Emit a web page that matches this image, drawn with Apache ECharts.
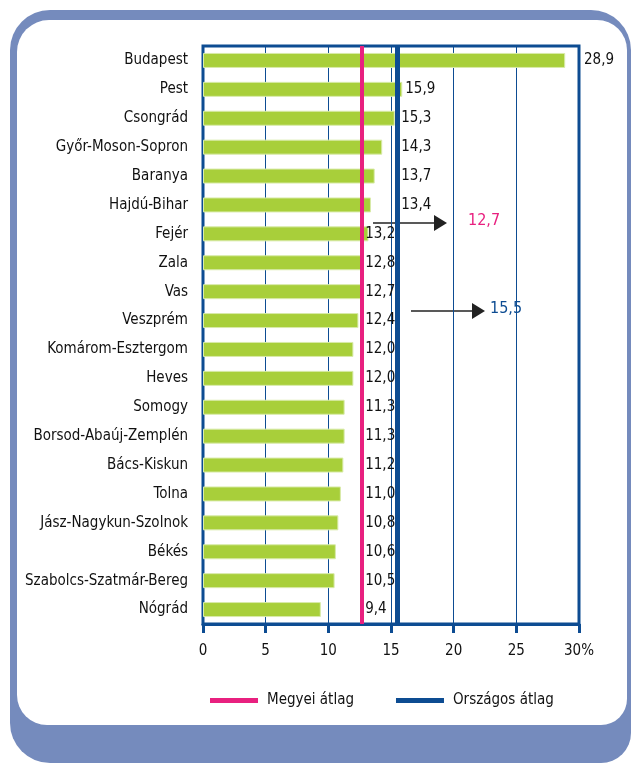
<!DOCTYPE html>
<html>
<head>
<meta charset="utf-8">
<script src="https://cdn.jsdelivr.net/npm/echarts@6/dist/echarts.min.js"></script>
<style>
  html, body { margin: 0; padding: 0; background: #fff; }
  #frame { position: absolute; left: 10px; top: 10px; width: 621px; height: 753px; background: #758bbd; border-radius: 40px 40px 30px 40px; }
  #panel { position: absolute; left: 17px; top: 20px; width: 610px; height: 705px; background: #fff; border-radius: 32px 30px 26px 30px; }
  #chart { position: absolute; left: 0; top: 0; width: 631px; height: 764px; }
</style>
</head>
<body>
<div id="frame"></div>
<div id="panel"></div>
<div id="chart"></div>
<script>
// megyék, felülről lefelé
const counties = [
  'Budapest', 'Pest', 'Csongrád', 'Győr-Moson-Sopron', 'Baranya', 'Hajdú-Bihar',
  'Fejér', 'Zala', 'Vas', 'Veszprém', 'Komárom-Esztergom', 'Heves', 'Somogy',
  'Borsod-Abaúj-Zemplén', 'Bács-Kiskun', 'Tolna', 'Jász-Nagykun-Szolnok',
  'Békés', 'Szabolcs-Szatmár-Bereg', 'Nógrád'
];
const values = [28.9, 15.9, 15.3, 14.3, 13.7, 13.4, 13.2, 12.8, 12.7, 12.4,
  12.0, 12.0, 11.3, 11.3, 11.2, 11.0, 10.8, 10.6, 10.5, 9.4];
const countyAvg = 12.7;   // Megyei átlag
const nationalAvg = 15.5; // Országos átlag
const xTicks = [0, 5, 10, 15, 20, 25, 30];

const font = "'DejaVu Sans Condensed', 'DejaVu Sans', sans-serif";
const navy = '#0d4c92';
const pink = '#e8207f';
const green = '#a8cf3a';

const fmt = v => String(v.toFixed(1)).replace('.', ',');

let chart = echarts.init(document.getElementById('chart'));

let option = {
  animation: false,
  backgroundColor: 'transparent',
  textStyle: { fontFamily: font },
  grid: {
    left: 203, right: 52, top: 46, bottom: 140,
    show: true, borderColor: navy, borderWidth: 3, containLabel: false
  },
  xAxis: {
    type: 'value', min: 0, max: 30, interval: 5,
    axisLine: { show: true, lineStyle: { color: navy, width: 3 } },
    axisTick: { show: true, length: 9, lineStyle: { color: navy, width: 3 } },
    splitLine: { show: true, lineStyle: { color: navy, width: 1 } },
    axisLabel: {
      margin: 20, fontSize: 15, color: '#111', fontFamily: font,
      formatter: v => (v === xTicks[xTicks.length - 1] ? v + '%' : String(v))
    }
  },
  yAxis: {
    type: 'category', inverse: true, data: counties,
    axisLine: { show: false }, axisTick: { show: false },
    axisLabel: { margin: 15, fontSize: 15, color: '#111', fontFamily: font }
  },
  legend: {
    left: 205, top: 688, icon: 'rect', itemWidth: 48, itemHeight: 5, itemGap: 42,
    textStyle: { fontSize: 15, color: '#111', fontFamily: font, padding: [0, 0, 0, 4] },
    data: ['Megyei átlag', 'Országos átlag']
  },
  series: [
    {
      name: 'arány', type: 'bar', data: values, barWidth: 15,
      itemStyle: { color: green, borderColor: '#d9ebaa', borderWidth: 1 },
      label: {
        show: true, position: 'right', distance: 3, fontSize: 15, color: '#111',
        fontFamily: font, formatter: p => fmt(p.value)
      },
      z: 2
    },
    {
      name: 'Megyei átlag', type: 'line', data: [],
      itemStyle: { color: pink }, lineStyle: { color: pink },
      markLine: {
        silent: true, symbol: 'none', label: { show: false },
        lineStyle: { color: pink, width: 4, type: 'solid' },
        data: [{ xAxis: countyAvg }]
      },
      z: 4
    },
    {
      name: 'Országos átlag', type: 'line', data: [],
      itemStyle: { color: navy }, lineStyle: { color: navy },
      markLine: {
        silent: true, symbol: 'none', label: { show: false },
        lineStyle: { color: navy, width: 5, type: 'solid' },
        data: [{ xAxis: nationalAvg }]
      },
      z: 3
    }
  ],
  graphic: [
    { type: 'line', shape: { x1: 373, y1: 223, x2: 436, y2: 223 }, style: { stroke: '#222', lineWidth: 1.5 } },
    { type: 'polygon', shape: { points: [[434, 215], [447, 223], [434, 231]] }, style: { fill: '#222' } },
    { type: 'text', left: 468, top: 213, style: { text: fmt(countyAvg), fill: pink, fontSize: 16, fontFamily: font } },
    { type: 'line', shape: { x1: 411, y1: 311, x2: 474, y2: 311 }, style: { stroke: '#222', lineWidth: 1.5 } },
    { type: 'polygon', shape: { points: [[472, 303], [485, 311], [472, 319]] }, style: { fill: '#222' } },
    { type: 'text', left: 490, top: 301, style: { text: fmt(nationalAvg), fill: navy, fontSize: 16, fontFamily: font } }
  ]
};

chart.setOption(option);

// címkék: az átlagvonalak és a keret mögé tolva, mint az eredetin
const px = v => chart.convertToPixel({ gridIndex: 0 }, [v, 0])[0];
let pinkX = px(countyAvg);
let blueX = px(nationalAvg);
let frameX = px(xTicks[xTicks.length - 1]);
let barData = values.map(v => {
  let endX = px(v);
  let target = endX + 3;
  if (endX < pinkX + 8) target = pinkX + 3;
  else if (endX < blueX + 3) target = blueX + 4;
  else if (endX + 34 > frameX) target = frameX + 5;
  return { value: v, label: { offset: [target - endX - 3, 0] } };
});
chart.setOption({ series: [{ name: 'arány', data: barData }] });
</script>
</body>
</html>
